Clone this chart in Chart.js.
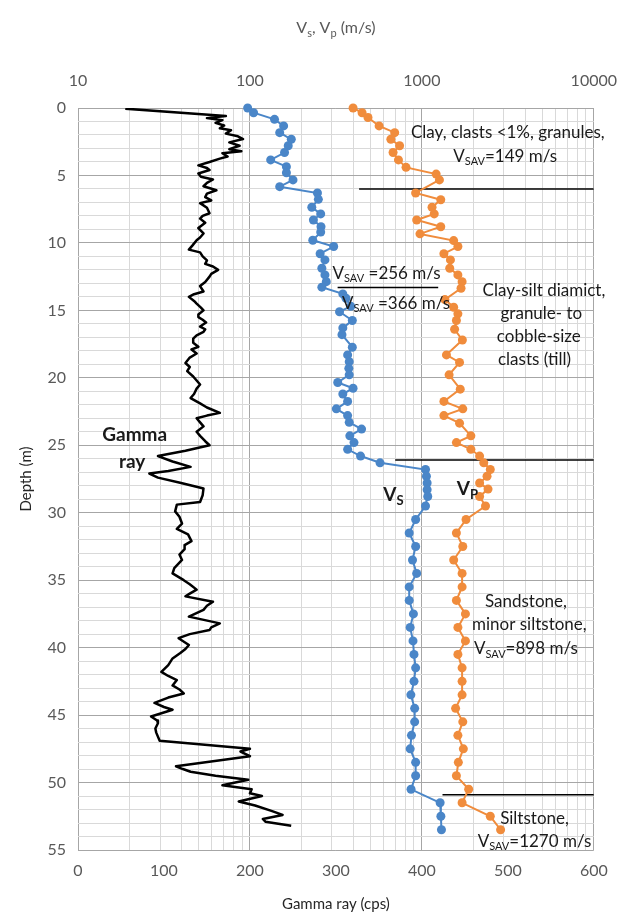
<!DOCTYPE html>
<html>
<head>
<meta charset="utf-8">
<script src="https://cdn.jsdelivr.net/npm/chart.js@4.4.0/dist/chart.umd.min.js"></script>
<style>
  html, body { margin: 0; padding: 0; background: #fff; }
</style>
</head>
<body>
<canvas id="logChart" width="635" height="914"></canvas>
<script>
// Gamma ray log, depth (m) and counts (cps)
const gammaDepth = [0.05, 0.6, 0.75, 0.9, 1.1, 1.3, 1.5, 1.65, 1.9, 2.1, 2.3, 2.55, 2.8, 3.05, 3.2, 3.35, 3.6, 3.75, 4.0, 4.25,
  4.45, 4.6, 4.85, 5.1, 5.3, 5.55, 5.8, 6.1, 6.35, 6.6, 6.85, 7.05, 7.4, 7.8, 8.0, 8.2, 8.5, 8.9, 9.3, 9.6,
  9.8, 10.2, 10.5, 10.7, 11.0, 11.3, 11.55, 11.75, 12.0, 12.3, 12.5, 12.9, 13.2, 13.6, 13.8, 14.0, 14.3, 14.5, 14.8, 15.0,
  15.3, 15.5, 15.7, 15.9, 16.2, 16.4, 16.6, 16.85, 17.1, 17.4, 17.7, 17.9, 18.2, 18.5, 18.9, 19.2, 19.5, 19.9, 20.2, 20.5,
  20.8, 21.2, 21.5, 21.9, 22.2, 22.6, 22.8, 23.0, 23.3, 23.6, 24.0, 24.3, 24.7, 25.0, 25.4, 25.8, 26.2, 26.6, 26.9, 27.1,
  27.4, 27.8, 28.2, 28.7, 29.2, 29.4, 29.9, 30.3, 30.8, 31.2, 31.6, 32.1, 32.4, 32.7, 33.1, 33.5, 34.1, 34.5, 35.0, 35.3,
  35.7, 36.0, 36.2, 36.6, 36.9, 37.2, 37.7, 38.2, 38.5, 38.7, 39.0, 39.3, 39.8, 40.1, 40.4, 40.8, 41.3, 41.8, 42.1, 42.4,
  42.8, 43.1, 43.4, 43.7, 44.1, 44.4, 44.6, 45.1, 45.4, 45.6, 46.0, 46.3, 46.9, 47.5, 47.7, 48.05, 48.8, 49.0, 49.2, 49.5,
  49.8, 50.2, 50.5, 50.8, 51.0, 51.4, 51.7, 52.1, 52.4, 52.7, 52.9, 53.2];
const gammaCps = [55, 172, 150, 168, 160, 170, 165, 178, 172, 186, 192, 176, 188, 176, 190, 168, 174, 165, 153, 140,
  150, 153, 140, 143, 157, 150, 146, 161, 150, 148, 155, 142, 150, 153, 145, 142, 148, 140, 146, 142,
  138, 133, 129, 142, 145, 150, 148, 157, 163, 155, 153, 148, 142, 146, 135, 129, 135, 138, 143, 146,
  140, 140, 145, 149, 142, 148, 146, 138, 134, 134, 140, 132, 138, 130, 125, 130, 127, 134, 138, 142,
  138, 135, 131, 142, 150, 165, 150, 138, 142, 146, 138, 142, 148, 153, 125, 93, 110, 131, 105, 83,
  93, 120, 146, 145, 142, 115, 113, 118, 121, 115, 128, 132, 124, 124, 118, 121, 112, 110, 123, 130,
  138, 130, 125, 157, 150, 146, 129, 165, 155, 153, 130, 117, 129, 125, 119, 110, 105, 97, 105, 115,
  110, 118, 123, 105, 89, 100, 110, 85, 92, 93, 90, 91, 95, 200, 189, 200, 114, 122, 131, 160,
  198, 168, 202, 200, 214, 187, 206, 225, 238, 215, 218, 248];

// Shear wave velocity Vs (m/s)
const vsDepth = [0, 0.35, 0.84, 1.33, 1.83, 2.32, 2.8, 3.3, 3.85, 4.35, 4.8, 5.33, 5.83, 6.3, 6.77, 7.36, 7.85, 8.3, 8.8, 9.2,
  9.8, 10.27, 10.8, 11.26, 11.88, 12.37, 12.87, 13.28, 13.78, 14.1, 14.7, 15.1, 15.75, 16.3, 16.8, 17.73, 18.3, 18.8, 19.3, 19.78,
  20.35, 20.77, 21.2, 21.75, 22.3, 22.8, 23.3, 23.8, 24.3, 24.8, 25.3, 25.8, 26.3, 26.8, 27.3, 27.8, 28.3, 28.8, 29.5, 30.5,
  31.5, 32.5, 33.5, 34.5, 35.5, 36.5, 37.5, 38.5, 39.5, 40.5, 41.5, 42.5, 43.5, 44.5, 45.5, 46.5, 47.5, 48.5, 49.5, 50.5,
  51.5, 52.5, 53.5];
const vsSpeed = [97, 105, 139, 157, 149, 174, 167, 159, 132, 163, 163, 178, 149, 247, 250, 229, 258, 234, 259, 258,
  232, 307, 256, 273, 262, 273, 278, 262, 347, 362, 386, 332, 394, 347, 343, 394, 370, 378, 376, 378,
  324, 398, 347, 370, 318, 370, 378, 446, 381, 403, 370, 440, 571, 1050, 1063, 1073, 1073, 1082, 1050, 920,
  844, 920, 882, 933, 844, 844, 893, 855, 888, 900, 920, 900, 863, 908, 908, 870, 855, 920, 920, 865,
  1277, 1290, 1300];

// Compressional wave velocity Vp (m/s)
const vpDepth = [0, 0.35, 0.7, 1.33, 1.83, 2.32, 2.8, 3.3, 3.85, 4.4, 4.9, 5.33, 6.3, 6.8, 7.36, 7.85, 8.3, 8.8, 9.33, 9.83,
  10.27, 10.8, 11.26, 11.88, 12.37, 12.87, 13.36, 14.2, 14.77, 15.26, 15.75, 16.4, 17.2, 18.3, 18.86, 19.78, 20.84, 21.75, 22.3, 22.8,
  23.36, 24.3, 24.8, 25.3, 25.8, 26.3, 26.8, 27.3, 27.8, 28.25, 28.8, 29.5, 30.5, 31.5, 32.5, 33.5, 34.5, 35.5, 36.5, 37.5,
  38.5, 39.5, 40.5, 41.5, 42.5, 43.5, 44.5, 45.5, 46.5, 47.5, 48.5, 49.5, 50.5, 51.5, 52.5, 53.5];
const vpSpeed = [398, 449, 486, 564, 695, 660, 742, 680, 731, 809, 1211, 1265, 920, 1288, 1146, 1180, 933, 1288, 975, 1531,
  1620, 1343, 1466, 1452, 1620, 1714, 1690, 1361, 1531, 1620, 1588, 1550, 1720, 1390, 1656, 1440, 1672, 1343, 1730, 1343,
  1656, 1928, 1588, 1928, 2167, 2291, 2500, 2393, 2167, 2426, 2167, 2345, 1807, 1588, 1730, 1531, 1714, 1714, 1588, 1792,
  1620, 1792, 1620, 1714, 1714, 1714, 1571, 1730, 1620, 1743, 1630, 1588, 1872, 1714, 2500, 2870];

// Unit boundaries: depth and extent on the gamma axis
const boundaryDepth = [6.0, 13.3, 26.1, 50.9];
const boundaryFrom = [327, 302, 369, 424];
const boundaryTo = [600, 419, 600, 600];

// Tick labels
const depthTicks = [0, 5, 10, 15, 20, 25, 30, 35, 40, 45, 50, 55];
const gammaTicks = [0, 100, 200, 300, 400, 500, 600];
const speedDecades = [10, 100, 1000, 10000];

const FONT = 'Lato';
const AXIS_GREY = '#595959';
const MAJOR_GRID = '#a6a6a6';
const MINOR_GRID = '#d9d9d9';

function toPoints(depths, values) {
  return depths.map((d, i) => ({ x: values[i], y: d }));
}

// log grid: 10,20..90,100,200..
const speedGrid = [];
speedDecades.forEach((dec, i) => {
  if (i === speedDecades.length - 1) { speedGrid.push(dec); return; }
  for (let m = 1; m < 10; m++) speedGrid.push(dec * m);
});
const depthGrid = [];
for (let d = 0; d <= 55; d++) depthGrid.push(d);

const boundarySets = boundaryDepth.map((d, i) => ({
  data: [{ x: boundaryFrom[i], y: d }, { x: boundaryTo[i], y: d }],
  xAxisID: 'xg',
  yAxisID: 'y',
  showLine: true,
  borderColor: '#000',
  borderWidth: 1.5,
  pointRadius: 0
}));

// text labels, placed in gamma/depth units
const notes = [
  { g: 500, d: 1.85, parts: [['Clay, clasts <1%, granules,']] },
  { g: 497, d: 3.6, parts: [['V'], ['SAV', 'sub'], ['=149 m/s']] },
  { g: 359, d: 12.25, parts: [['V'], ['SAV', 'sub'], [' =256 m/s']] },
  { g: 370, d: 14.5, parts: [['V'], ['SAV', 'sub'], [' =366 m/s']] },
  { g: 542, d: 13.5, parts: [['Clay-silt diamict,']] },
  { g: 539, d: 15.26, parts: [['granule- to']] },
  { g: 536, d: 16.94, parts: [['cobble-size']] },
  { g: 531, d: 18.67, parts: [['clasts (till)']] },
  { g: 66, d: 24.2, parts: [['Gamma', 'bold']] },
  { g: 63, d: 26.2, parts: [['ray', 'bold']] },
  { g: 367, d: 28.7, parts: [['V', 'bold'], ['S', 'boldsub']] },
  { g: 453, d: 28.2, parts: [['V', 'bold'], ['P', 'boldsub']] },
  { g: 521, d: 36.6, parts: [['Sandstone,']] },
  { g: 525, d: 38.3, parts: [['minor siltstone,']] },
  { g: 521, d: 40.1, parts: [['V'], ['SAV', 'sub'], ['=898 m/s']] },
  { g: 531, d: 52.7, parts: [['Siltstone,']] },
  { g: 531, d: 54.35, parts: [['V'], ['SAV', 'sub'], ['=1270 m/s']] }
];

const partStyle = {
  normal: { font: '17px ' + FONT, dy: 0 },
  sub: { font: '11px ' + FONT, dy: 5 },
  bold: { font: 'bold 19px ' + FONT, dy: 0 },
  boldsub: { font: 'bold 13px ' + FONT, dy: 6 }
};

function drawParts(ctx, parts, cx, cy, color) {
  let total = 0;
  parts.forEach(p => {
    ctx.font = partStyle[p[1] || 'normal'].font;
    total += ctx.measureText(p[0]).width;
  });
  let x = cx - total / 2;
  ctx.fillStyle = color;
  ctx.textAlign = 'left';
  ctx.textBaseline = 'middle';
  parts.forEach(p => {
    const st = partStyle[p[1] || 'normal'];
    ctx.font = st.font;
    ctx.fillText(p[0], x, cy + st.dy);
    x += ctx.measureText(p[0]).width;
  });
}

const notesPlugin = {
  id: 'notes',
  afterDatasetsDraw(chart) {
    const ctx = chart.ctx;
    const xs = chart.scales.xg;
    const ys = chart.scales.y;
    ctx.save();
    notes.forEach(n => {
      drawParts(ctx, n.parts, xs.getPixelForValue(n.g), ys.getPixelForValue(n.d), '#1a1a1a');
    });
    // top axis title with subscripts
    const area = chart.chartArea;
    const savedNormal = partStyle.normal.font, savedSub = partStyle.sub.font;
    partStyle.normal.font = '16px ' + FONT;
    partStyle.sub.font = '11px ' + FONT;
    drawParts(ctx, [['V'], ['s', 'sub'], [', V'], ['p', 'sub'], [' (m/s)']], (area.left + area.right) / 2, 28, AXIS_GREY);
    partStyle.normal.font = savedNormal;
    partStyle.sub.font = savedSub;
    ctx.restore();
  }
};

new Chart(document.getElementById('logChart'), {
  type: 'scatter',
  data: {
    datasets: [
      {
        label: 'Gamma ray',
        data: toPoints(gammaDepth, gammaCps),
        xAxisID: 'xg',
        yAxisID: 'y',
        showLine: true,
        borderColor: '#000',
        borderWidth: 2.5,
        borderJoinStyle: 'round',
        pointRadius: 0
      },
      {
        label: 'Vs',
        data: toPoints(vsDepth, vsSpeed),
        xAxisID: 'xv',
        yAxisID: 'y',
        showLine: true,
        borderColor: '#4a86c8',
        backgroundColor: '#4a86c8',
        borderWidth: 2,
        pointRadius: 4.5,
        pointBorderWidth: 0,
        clip: false
      },
      {
        label: 'Vp',
        data: toPoints(vpDepth, vpSpeed),
        xAxisID: 'xv',
        yAxisID: 'y',
        showLine: true,
        borderColor: '#f08c3c',
        backgroundColor: '#f08c3c',
        borderWidth: 2,
        pointRadius: 4.5,
        pointBorderWidth: 0,
        clip: false
      },
      ...boundarySets
    ]
  },
  options: {
    responsive: false,
    animation: false,
    layout: { padding: { left: 0, right: 27, top: 0, bottom: 0 } },
    plugins: {
      legend: { display: false },
      tooltip: { enabled: false }
    },
    scales: {
      xg: {
        type: 'linear',
        position: 'bottom',
        min: 0,
        max: 600,
        afterBuildTicks: s => { s.ticks = gammaTicks.map(v => ({ value: v })); },
        afterFit: s => { s.height = 64; },
        grid: { display: false, drawTicks: false },
        border: { display: false },
        ticks: { color: AXIS_GREY, font: { family: FONT, size: 16 }, padding: 11, maxRotation: 0, autoSkip: false },
        title: { display: true, text: 'Gamma ray (cps)', color: '#262626', font: { family: FONT, size: 15 }, padding: { top: 0, bottom: 1 } }
      },
      xv: {
        type: 'logarithmic',
        position: 'top',
        min: 10,
        max: 10000,
        afterBuildTicks: s => { s.ticks = speedGrid.map(v => ({ value: v })); },
        afterFit: s => { s.height = 108; },
        grid: {
          drawTicks: false,
          color: c => speedDecades.includes(c.tick.value) ? MAJOR_GRID : MINOR_GRID
        },
        border: { display: false },
        ticks: {
          color: AXIS_GREY,
          font: { family: FONT, size: 16 },
          padding: 18,
          maxRotation: 0,
          autoSkip: false,
          callback: v => speedDecades.includes(v) ? String(v) : ''
        }
      },
      y: {
        type: 'linear',
        reverse: true,
        min: 0,
        max: 55,
        afterBuildTicks: s => { s.ticks = depthGrid.map(v => ({ value: v })); },
        afterFit: s => { s.width = 78; },
        grid: {
          drawTicks: false,
          color: c => depthTicks.includes(c.tick.value) ? MAJOR_GRID : MINOR_GRID
        },
        border: { display: false },
        ticks: {
          color: AXIS_GREY,
          font: { family: FONT, size: 16 },
          padding: 12,
          autoSkip: false,
          callback: v => depthTicks.includes(v) ? String(v) : ''
        },
        title: { display: true, text: 'Depth (m)', color: '#262626', font: { family: FONT, size: 15 }, padding: { top: 17, bottom: 0 } }
      }
    }
  },
  plugins: [notesPlugin]
});
</script>
</body>
</html>
